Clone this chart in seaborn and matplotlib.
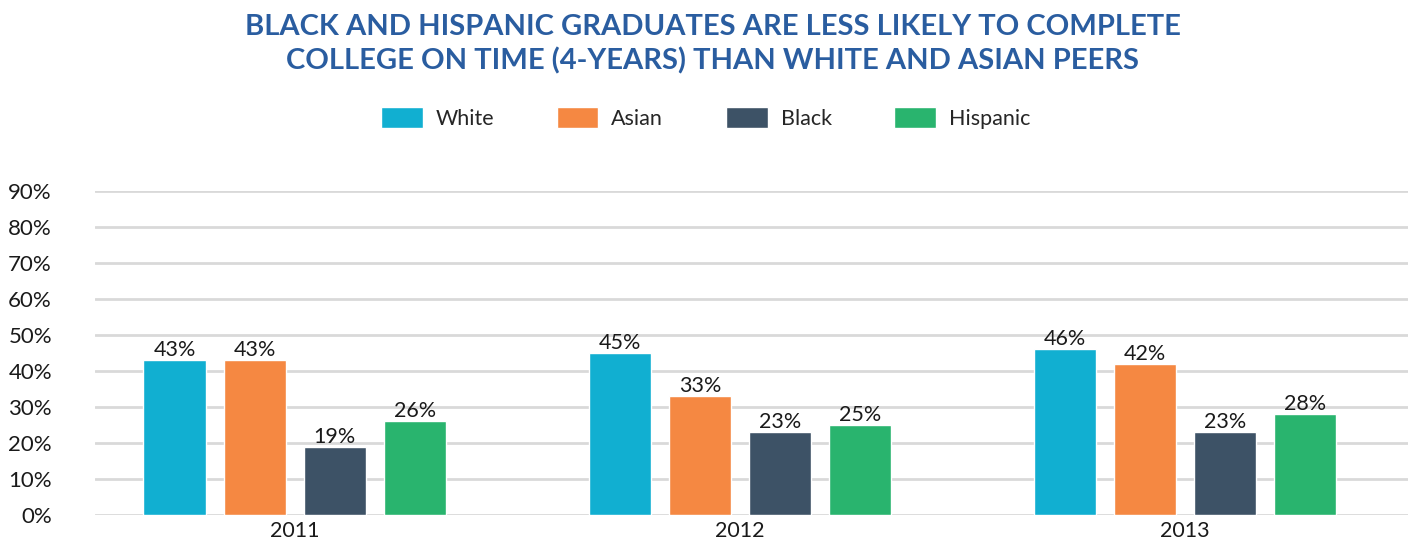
import matplotlib
matplotlib.use("Agg")
import matplotlib.pyplot as plt
import seaborn as sns
import pandas as pd

years = ["2011", "2012", "2013"]
groups = ["White", "Asian", "Black", "Hispanic"]
white = [43, 45, 46]
asian = [43, 33, 42]
black = [19, 23, 23]
hispanic = [26, 25, 28]
yticks = [0, 10, 20, 30, 40, 50, 60, 70, 80, 90]
colors = ["#11AFD1", "#F58842", "#3D5266", "#29B46E"]
title = ("BLACK AND HISPANIC GRADUATES ARE LESS LIKELY TO COMPLETE\n"
         "COLLEGE ON TIME (4-YEARS) THAN WHITE AND ASIAN PEERS")

rows = []
for name, vals in zip(groups, [white, asian, black, hispanic]):
    for yr, v in zip(years, vals):
        rows.append({"year": yr, "group": name, "rate": v})
df = pd.DataFrame(rows)

sns.set_theme(style="white")
plt.rcParams["font.family"] = ["Lato", "DejaVu Sans"]

fig = plt.figure(figsize=(14.11, 5.44), dpi=100)
ax = fig.add_axes([95 / 1411, 1 - 515 / 544, (1408 - 95) / 1411, (515 - 191) / 544])

sns.barplot(data=df, x="year", y="rate", hue="group", order=years, hue_order=groups,
            palette=colors, width=0.72, gap=0.22, ax=ax, legend=True, saturation=1)

for cont in ax.containers:
    ax.bar_label(cont, fmt="%d%%", padding=0, fontsize=15.5, color="#1a1a1a")

ax.set_ylim(0, 90)
ax.set_xlim(-0.449, 2.501)
ax.set_yticks(yticks)
ax.set_yticklabels([f"{t}%" for t in yticks], fontsize=16, color="#1a1a1a")
ax.tick_params(axis="y", length=0, pad=31)
ax.tick_params(axis="x", length=0, pad=4, labelsize=15.5, labelcolor="#1a1a1a")
ax.set_xlabel("")
ax.set_ylabel("")
ax.yaxis.grid(True, color="#D9D9D9", linewidth=2)
ax.set_axisbelow(True)
for s in ax.spines.values():
    s.set_visible(False)

handles, labels = ax.get_legend_handles_labels()
ax.get_legend().remove()
fig.legend(handles, labels, loc="center", bbox_to_anchor=(0.5, 1 - 118 / 544), ncol=4,
           frameon=False, fontsize=15.5, handlelength=1.95, handleheight=1.15,
           handletextpad=0.6, columnspacing=2.9)

fig.text(0.505, 1 - 44 / 544, title, ha="center", va="center", fontsize=21,
         fontweight="bold", color="#2A5DA0", linespacing=1.35)

fig.savefig("out.png", dpi=100)
